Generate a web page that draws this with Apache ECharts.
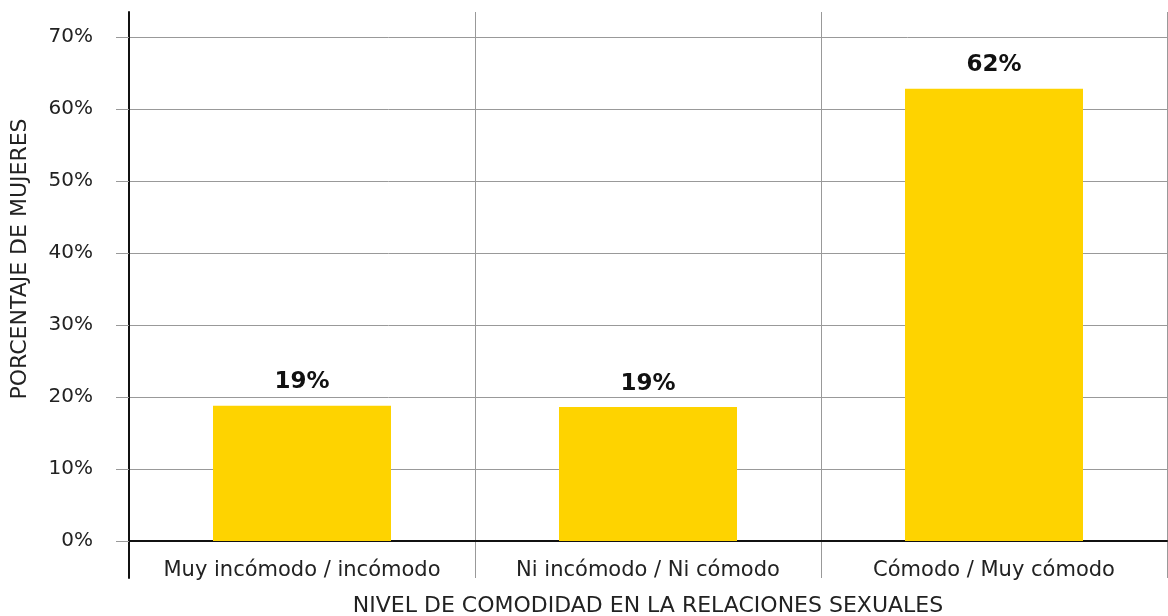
<!DOCTYPE html>
<html>
<head>
<meta charset="utf-8">
<script src="https://cdn.jsdelivr.net/npm/echarts@6/dist/echarts.min.js"></script>
<style>
  html, body { margin: 0; padding: 0; background: #fff; }
  #main { width: 1168px; height: 616px; }
</style>
</head>
<body>
<div id="main"></div>
<script>
var categories = ['Muy incómodo / incómodo', 'Ni incómodo / Ni cómodo', 'Cómodo / Muy cómodo'];
var values = [18.8, 18.6, 62.8];
var valueLabels = ['19%', '19%', '62%'];

var FONT = '"DejaVu Sans"';

var myChart = echarts.init(document.getElementById('main'));

var option = {
    animation: false,
    backgroundColor: '#fff',
    textStyle: { fontFamily: FONT },
    grid: [
        // main plot
        { left: 129, right: 1, top: 37, bottom: 75, containLabel: false, outerBoundsMode: 'none' },
        // frame lines that run past the plot (y axis line, category separators)
        { left: 129, right: 1, top: 12, bottom: 38, containLabel: false, outerBoundsMode: 'none' }
    ],
    xAxis: [
        {
            type: 'category',
            gridIndex: 0,
            data: categories,
            name: 'NIVEL DE COMODIDAD EN LA RELACIONES SEXUALES',
            nameLocation: 'middle',
            nameGap: 54,
            nameTextStyle: { color: '#222', fontSize: 22, fontFamily: FONT },
            axisLine: { show: true, lineStyle: { color: '#111', width: 2 } },
            axisTick: { show: false },
            axisLabel: { color: '#222', fontSize: 21, margin: 19, interval: 0, hideOverlap: false, fontFamily: FONT },
            splitLine: { show: false }
        },
        {
            type: 'category',
            gridIndex: 1,
            data: categories,
            axisLine: { show: false },
            axisTick: { show: false },
            axisLabel: { show: false },
            splitLine: { show: true, interval: 0, lineStyle: { color: '#999', width: 1 } }
        }
    ],
    yAxis: [
        {
            type: 'value',
            gridIndex: 0,
            min: 0,
            max: 70,
            interval: 10,
            name: 'PORCENTAJE DE MUJERES',
            nameLocation: 'middle',
            nameGap: 98,
            nameTextStyle: { color: '#222', fontSize: 22, fontFamily: FONT, padding: [0, 0, 0, 60] },
            axisLine: { show: false },
            axisTick: { show: true, length: 13, lineStyle: { color: '#999' } },
            axisLabel: { color: '#222', fontSize: 20, margin: 36, fontFamily: FONT, formatter: '{value}%' },
            splitLine: { show: true, lineStyle: { color: '#999', width: 1 } }
        },
        {
            type: 'value',
            gridIndex: 1,
            axisLine: { show: true, lineStyle: { color: '#111', width: 2 } },
            axisTick: { show: false },
            axisLabel: { show: false },
            splitLine: { show: false }
        }
    ],
    series: [
        {
            type: 'bar',
            xAxisIndex: 0,
            yAxisIndex: 0,
            data: values,
            barWidth: 178,
            itemStyle: { color: '#FED300' },
            z: 3,
            label: {
                show: true,
                position: 'top',
                distance: 12,
                color: '#111',
                fontSize: 23,
                fontWeight: 'bold',
                fontFamily: FONT,
                formatter: function (p) { return valueLabels[p.dataIndex]; }
            }
        }
    ]
};

myChart.setOption(option);
</script>
</body>
</html>
